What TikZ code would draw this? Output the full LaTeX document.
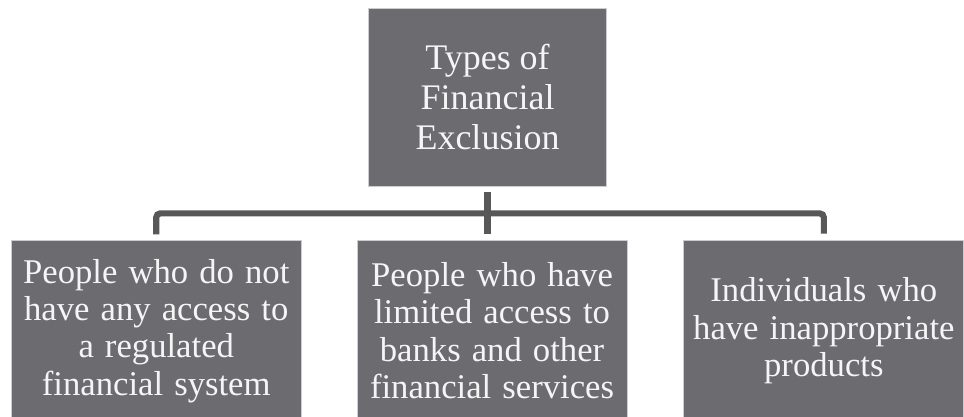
\documentclass[tikz,border=0pt]{standalone}
\usepackage{fontspec}
\setmainfont{Liberation Serif}
\usetikzlibrary{positioning}

\definecolor{boxgrey}{RGB}{107,107,112}
\definecolor{edgegrey}{RGB}{205,205,205}
\definecolor{linkgrey}{RGB}{88,88,88}

\newcommand\widespace{\spaceskip=.32em plus .05em\relax}

\begin{document}
\begin{tikzpicture}[x=0.75pt, y=-0.75pt,
    box/.style={fill=boxgrey, draw=edgegrey, line width=0.6pt, text=white!96!black,
                align=center, inner sep=0pt},
    head/.style={box, minimum width=179pt, minimum height=133.5pt,
                 font=\fontsize{27}{30}\selectfont},
    kind/.style={box, minimum height=135pt,
                 font=\fontsize{26}{28}\selectfont\widespace},
    link/.style={draw=linkgrey, line width=4.6pt, rounded corners=3pt,
                 shorten <=4.5pt, shorten >=5pt}]
      \useasboundingbox (0,0) rectangle (964,417);
      \clip (0,0) rectangle (964,417);

      \node[head] (top) at (487.5,97) {Types of\\Financial\\Exclusion};
      \node[kind, minimum width=202.5pt] (mid)   [below=40.5pt of top, xshift=3.4pt]
            {People who have\\limited access to\\banks and other\\financial services};
      \node[kind, minimum width=217.5pt] (left)  [left=41.25pt of mid]
            {People who do not\\have any access to\\a regulated\\financial system};
      \node[kind, minimum width=210pt]   (right) [right=42pt of mid]
            {Individuals who\\have inappropriate\\products};

      % branch bar under the heading
      \path (top.south) ++(0,27) coordinate (bus);
      \draw[link] (left.north) |- (bus) -| (right.north);
      \draw[link, rounded corners=0pt] (top.south) -- (top.south |- mid.north);
\end{tikzpicture}
\end{document}
